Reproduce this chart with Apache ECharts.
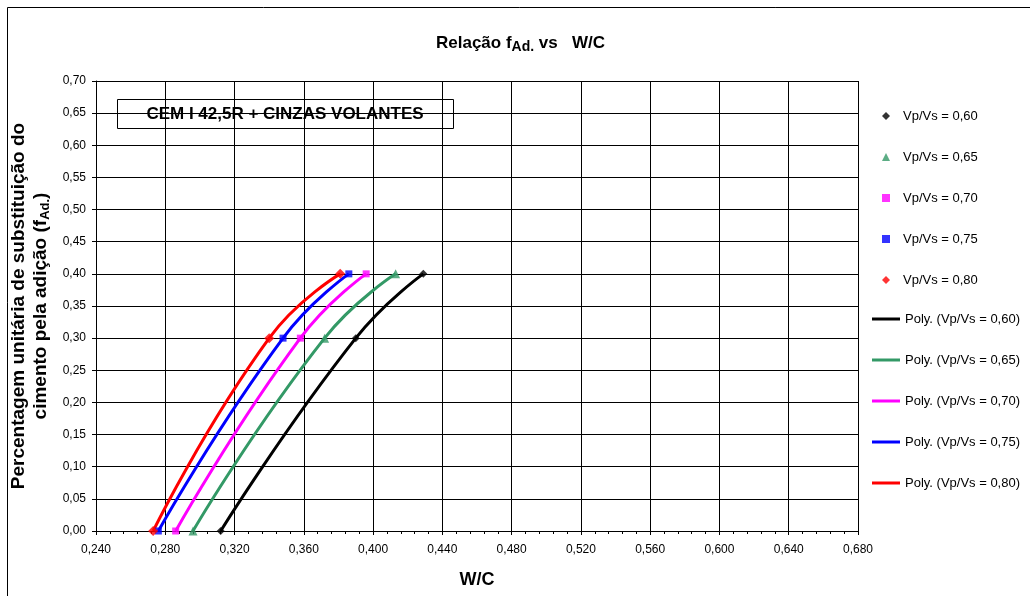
<!DOCTYPE html>
<html>
<head>
<meta charset="utf-8">
<script src="https://cdn.jsdelivr.net/npm/echarts@6/dist/echarts.min.js"></script>
<style>
  html, body { margin: 0; padding: 0; background: #fff; }
  #chart { width: 1030px; height: 596px; }
</style>
</head>
<body>
<div id="chart"></div>
<script>
// valores: f_Ad. vs W/C para cada Vp/Vs
const fAd = [0.00, 0.30, 0.40];
const wc060 = [0.312, 0.390, 0.429];
const wc065 = [0.296, 0.372, 0.413];
const wc070 = [0.286, 0.358, 0.396];
const wc075 = [0.276, 0.348, 0.386];
const wc080 = [0.273, 0.340, 0.381];

const names = ['Vp/Vs = 0,60', 'Vp/Vs = 0,65', 'Vp/Vs = 0,70', 'Vp/Vs = 0,75', 'Vp/Vs = 0,80'];
const wcSets = [wc060, wc065, wc070, wc075, wc080];
const colors = ['#000000', '#339966', '#ff00ff', '#0000ff', '#ff0000'];
const symbols = ['diamond', 'triangle', 'rect', 'rect', 'diamond'];
const symbolSizes = [8, 9, 7, 7, 10];

document.addEventListener("DOMContentLoaded", function () {
    const chart = echarts.init(document.getElementById('chart'));
    const font = '"Liberation Sans", Arial, sans-serif';

    const pts = wc => wc.map((x, i) => [x, fAd[i]]);

    // linhas de tendência (Poly.) por baixo dos marcadores
    const lineSeries = wcSets.map((wc, i) => ({
        name: 'Poly. (' + names[i] + ')',
        type: 'line',
        smooth: 0.5,
        showSymbol: false,
        symbol: 'none',
        data: pts(wc),
        lineStyle: { color: colors[i], width: 3 },
        itemStyle: { color: colors[i] },
        z: 2
    }));
    const markerSeries = wcSets.map((wc, i) => ({
        name: names[i],
        type: 'scatter',
        symbol: symbols[i],
        symbolSize: symbolSizes[i],
        data: pts(wc),
        itemStyle: { color: colors[i] },
        z: 3
    }));

    chart.setOption({
        backgroundColor: '#fff',
        animation: false,
        textStyle: { fontFamily: font },
        title: {
            text: '{b|Relação f}{s|Ad.}{b| vs   W/C}',
            left: 431,
            top: 27,
            textStyle: {
                rich: {
                    b: { fontFamily: font, fontSize: 17, fontWeight: 'bold', color: '#000', lineHeight: 22 },
                    s: { fontFamily: font, fontSize: 14, fontWeight: 'bold', color: '#000', lineHeight: 22, padding: [9, 0, 0, 0] }
                }
            }
        },
        legend: [
            {
                data: names,
                orient: 'vertical',
                left: 882,
                top: 109,
                padding: 0,
                itemWidth: 8,
                itemHeight: 8,
                itemGap: 27,
                textStyle: { fontFamily: font, fontSize: 13, color: '#000', lineHeight: 14, padding: [0, 0, 0, 8] }
            },
            {
                data: names.map(n => 'Poly. (' + n + ')'),
                orient: 'vertical',
                left: 872,
                top: 312,
                padding: 0,
                icon: 'rect',
                itemWidth: 28,
                itemHeight: 3,
                itemGap: 27,
                textStyle: { fontFamily: font, fontSize: 13, color: '#000', lineHeight: 14 }
            }
        ],
        grid: { left: 96, top: 81, right: 172, bottom: 65, containLabel: false, outerBoundsMode: 'none' },
        xAxis: {
            type: 'value',
            min: 0.24,
            max: 0.68,
            interval: 0.04,
            name: 'W/C',
            nameLocation: 'middle',
            nameGap: 40,
            nameTextStyle: { fontFamily: font, fontSize: 18, fontWeight: 'bold', color: '#000' },
            axisLine: { show: true, onZero: false, lineStyle: { color: '#000', width: 1 } },
            axisTick: { show: true, inside: false, length: 4, lineStyle: { color: '#000' } },
            minorTick: { show: true, splitNumber: 5, length: 3, lineStyle: { color: '#000' } },
            axisLabel: {
                fontFamily: font, fontSize: 12, color: '#000', margin: 13,
                formatter: v => v.toFixed(3).replace('.', ',')
            },
            splitLine: { show: true, lineStyle: { color: '#000', width: 1 } }
        },
        yAxis: {
            type: 'value',
            min: 0,
            max: 0.7,
            interval: 0.05,
            name: '{b|Percentagem unitária de substituição do}\n{b|cimento pela adição (f}{s|Ad.}{b|)}',
            nameLocation: 'middle',
            nameRotate: 90,
            nameGap: 37,
            nameTextStyle: {
                rich: {
                    b: { fontFamily: font, fontSize: 19, fontWeight: 'bold', color: '#000', lineHeight: 22 },
                    s: { fontFamily: font, fontSize: 13, fontWeight: 'bold', color: '#000', lineHeight: 22, padding: [8, 0, 0, 0] }
                }
            },
            axisLine: { show: true, lineStyle: { color: '#000', width: 1 } },
            axisTick: { show: true, inside: false, length: 4, lineStyle: { color: '#000' } },
            axisLabel: {
                fontFamily: font, fontSize: 12, color: '#000', margin: 10,
                formatter: v => v.toFixed(2).replace('.', ',')
            },
            splitLine: { show: true, lineStyle: { color: '#000', width: 1 } }
        },
        graphic: [
            {
                type: 'rect',
                shape: { x: 7.5, y: 7.5, width: 1100, height: 700 },
                style: { fill: 'none', stroke: '#000', lineWidth: 1 },
                silent: true,
                z: -10
            },
            {
                type: 'group',
                z: 100,
                children: [
                    {
                        type: 'rect',
                        shape: { x: 117.5, y: 99.5, width: 336, height: 29 },
                        style: { fill: '#fff', stroke: '#000', lineWidth: 1 }
                    },
                    {
                        type: 'text',
                        x: 285,
                        y: 114,
                        style: {
                            text: 'CEM I 42,5R + CINZAS VOLANTES',
                            font: 'bold 17px ' + font,
                            fill: '#000',
                            align: 'center',
                            verticalAlign: 'middle'
                        }
                    }
                ]
            }
        ],
        series: lineSeries.concat(markerSeries)
    });
});
</script>
</body>
</html>
